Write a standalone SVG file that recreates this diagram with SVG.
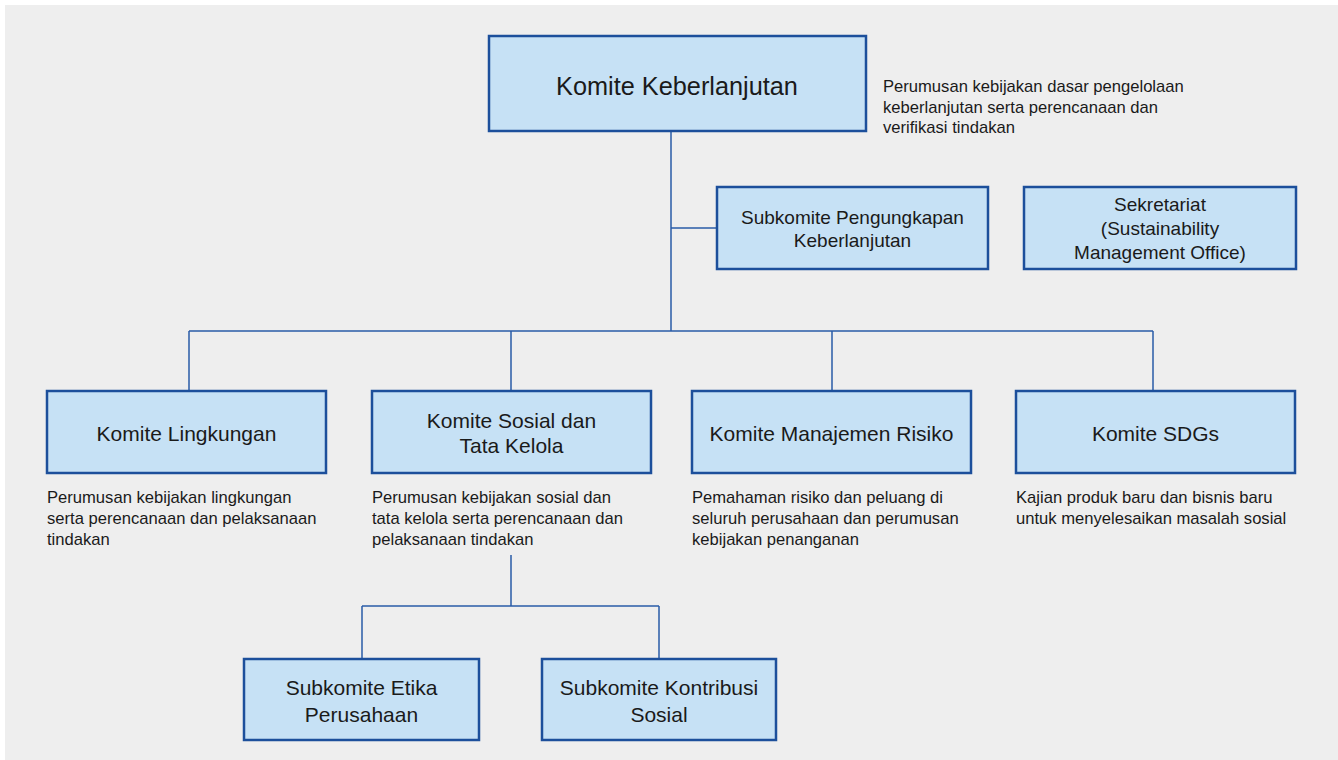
<svg xmlns="http://www.w3.org/2000/svg" width="1338" height="760" viewBox="0 0 1338 760">
<style>
.box{fill:#c6e1f5;stroke:#1c4f9b;stroke-width:2.5}
.lbl{font-family:"Liberation Sans",Arial,sans-serif;fill:#1a1a1a;text-anchor:middle}
.desc{font-family:"Liberation Sans",Arial,sans-serif;fill:#1a1a1a;font-size:16.6px}
.con{fill:none;stroke:#2a5ca8;stroke-width:1.5}
</style>
<rect x="5" y="5" width="1333" height="755" fill="#eeeeee"/>
<g id="connectors">
<path class="con" d="M671 132V331M671 228H717M189 331H1153M189 331V391M511 331V391M832 331V391M1153 331V391M511 555V606M362 606H659M362 606V659M659 606V659"/>
</g>
<g id="komite-keberlanjutan">
<rect class="box" x="489" y="36" width="377" height="95"/>
<text class="lbl" x="677" y="95" font-size="25.3">Komite Keberlanjutan</text>
<text class="desc"><tspan x="883" y="92">Perumusan kebijakan dasar pengelolaan</tspan><tspan x="883" y="112.5">keberlanjutan serta perencanaan dan</tspan><tspan x="883" y="133">verifikasi tindakan</tspan></text>
</g>
<g id="subkomite-pengungkapan">
<rect class="box" x="717" y="187" width="271" height="82"/>
<text class="lbl" font-size="19"><tspan x="852.5" y="224">Subkomite Pengungkapan</tspan><tspan x="852.5" y="247">Keberlanjutan</tspan></text>
</g>
<g id="sekretariat">
<rect class="box" x="1024" y="187" width="272" height="82"/>
<text class="lbl" font-size="19"><tspan x="1160" y="211">Sekretariat</tspan><tspan x="1160" y="235">(Sustainability</tspan><tspan x="1160" y="259">Management Office)</tspan></text>
</g>
<g id="komite-lingkungan">
<rect class="box" x="47" y="391" width="279" height="82"/>
<text class="lbl" x="186.5" y="441" font-size="21">Komite Lingkungan</text>
<text class="desc"><tspan x="47" y="503">Perumusan kebijakan lingkungan</tspan><tspan x="47" y="524">serta perencanaan dan pelaksanaan</tspan><tspan x="47" y="545">tindakan</tspan></text>
</g>
<g id="komite-sosial">
<rect class="box" x="372" y="391" width="279" height="82"/>
<text class="lbl" font-size="21"><tspan x="511.5" y="428">Komite Sosial dan</tspan><tspan x="511.5" y="453">Tata Kelola</tspan></text>
<text class="desc"><tspan x="372" y="503">Perumusan kebijakan sosial dan</tspan><tspan x="372" y="524">tata kelola serta perencanaan dan</tspan><tspan x="372" y="545">pelaksanaan tindakan</tspan></text>
</g>
<g id="komite-manajemen-risiko">
<rect class="box" x="692" y="391" width="279" height="82"/>
<text class="lbl" x="831.5" y="441" font-size="21">Komite Manajemen Risiko</text>
<text class="desc"><tspan x="692" y="503">Pemahaman risiko dan peluang di</tspan><tspan x="692" y="524">seluruh perusahaan dan perumusan</tspan><tspan x="692" y="545">kebijakan penanganan</tspan></text>
</g>
<g id="komite-sdgs">
<rect class="box" x="1016" y="391" width="279" height="82"/>
<text class="lbl" x="1155.5" y="441" font-size="21">Komite SDGs</text>
<text class="desc"><tspan x="1016" y="503">Kajian produk baru dan bisnis baru</tspan><tspan x="1016" y="524">untuk menyelesaikan masalah sosial</tspan></text>
</g>
<g id="subkomite-etika">
<rect class="box" x="244" y="659" width="235" height="81"/>
<text class="lbl" font-size="21"><tspan x="361.5" y="695">Subkomite Etika</tspan><tspan x="361.5" y="722">Perusahaan</tspan></text>
</g>
<g id="subkomite-kontribusi">
<rect class="box" x="542" y="659" width="234" height="81"/>
<text class="lbl" font-size="21"><tspan x="659" y="695">Subkomite Kontribusi</tspan><tspan x="659" y="722">Sosial</tspan></text>
</g>
</svg>
